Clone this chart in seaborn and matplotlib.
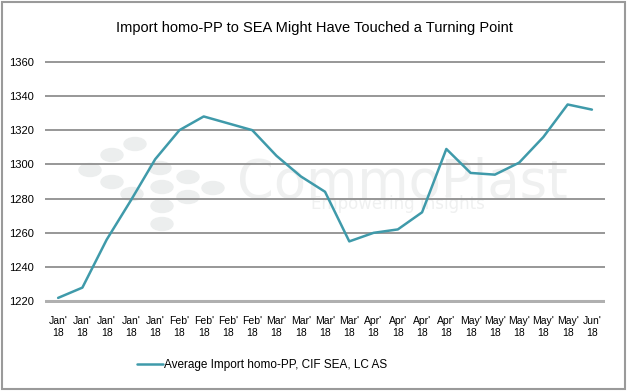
import pandas as pd
import seaborn as sns
import matplotlib.pyplot as plt
from matplotlib.patches import Ellipse, Rectangle

# Dados
meses = ["Jan'", "Jan'", "Jan'", "Jan'", "Jan'", "Feb'", "Feb'", "Feb'", "Feb'",
         "Mar'", "Mar'", "Mar'", "Mar'", "Apr'", "Apr'", "Apr'", "Apr'",
         "May'", "May'", "May'", "May'", "May'", "Jun'"]
ano = ["18"] * len(meses)
precos = [1222, 1228, 1256, 1279, 1303, 1320, 1328, 1324, 1320,
          1305, 1293, 1284, 1255, 1260, 1262, 1272,
          1309, 1295, 1294, 1301, 1316, 1335, 1332]
y_ticks = [1220, 1240, 1260, 1280, 1300, 1320, 1340, 1360]

serie = "Average Import homo-PP, CIF SEA, LC AS"
titulo = "Import homo-PP to SEA Might Have Touched a Turning Point"

df = pd.DataFrame({"idx": range(len(precos)), "preco": precos})

sns.set_style("white")
plt.rcParams['font.family'] = ['Liberation Sans', 'DejaVu Sans']
plt.rcParams['text.color'] = 'black'
plt.rcParams['xtick.color'] = 'black'
plt.rcParams['ytick.color'] = 'black'

fig = plt.figure(figsize=(6.28, 3.92), dpi=100)
ax = fig.add_axes([0.0717, 0.227, 0.8917, 0.62])
ax.set_zorder(2)
ax.patch.set_alpha(0)

# marca d'água (atrás do gráfico)
cor_wm = "#eceeee"
pontos = [(90, 170), (112, 155), (135, 144), (112, 182), (132, 194), (160, 168),
          (162, 187), (162, 206), (162, 224), (188, 177), (188, 197), (213, 188)]
for px, py in pontos:
    fig.patches.append(Ellipse((px / 628, 1 - py / 392), 22 / 628, 13 / 392,
                               transform=fig.transFigure, color=cor_wm, zorder=0))
fig.text(0.377, 1 - 183 / 392, "CommoPlast", fontsize=38, color="#eff0f0",
         ha="left", va="center", family=['DejaVu Sans'], zorder=0)
fig.text(0.495, 1 - 204 / 392, "Empowering Insights", fontsize=12, color="#eff0f0",
         ha="left", va="center", family=['DejaVu Sans'], zorder=0)

for v in y_ticks:
    ax.axhline(v, color="#8f8f8f" if v != 1220 else "#b0b0b0",
               lw=1.3 if v != 1220 else 2.2, zorder=1)

sns.lineplot(data=df, x="idx", y="preco", color="#3f9aaa", lw=1.8, ax=ax,
             label=serie, zorder=3)

ax.set_xlim(-0.54, len(precos) - 1 + 0.54)
ax.set_ylim(1219, 1361)
ax.set_yticks(y_ticks)
ax.set_yticklabels([str(v) for v in y_ticks], fontsize=8)
ax.set_xticks(range(len(precos)))
ax.set_xticklabels([m + "\n" + a for m, a in zip(meses, ano)], fontsize=7.5,
                   linespacing=1.25)
ax.tick_params(axis="both", length=0, labelcolor="black")
ax.tick_params(axis="y", pad=8)
ax.tick_params(axis="x", pad=9)
ax.set_xlabel("")
ax.set_ylabel("")
for s in ax.spines.values():
    s.set_visible(False)

fig.text(0.5, 1 - 28 / 392, titulo, ha="center", va="center", fontsize=10.5,
         color="black")

ax.legend(loc="center", bbox_to_anchor=(0.417, 1 - 365 / 392),
          bbox_transform=fig.transFigure, frameon=False, fontsize=8.5,
          handlelength=2.2, handletextpad=0.1)

# moldura
fig.patches.append(Rectangle((2 / 628, 3 / 392), 623 / 628, 387 / 392,
                             transform=fig.transFigure, fill=False,
                             edgecolor="#9a9a9a", lw=1.5))

fig.savefig("out.png", dpi=100)
